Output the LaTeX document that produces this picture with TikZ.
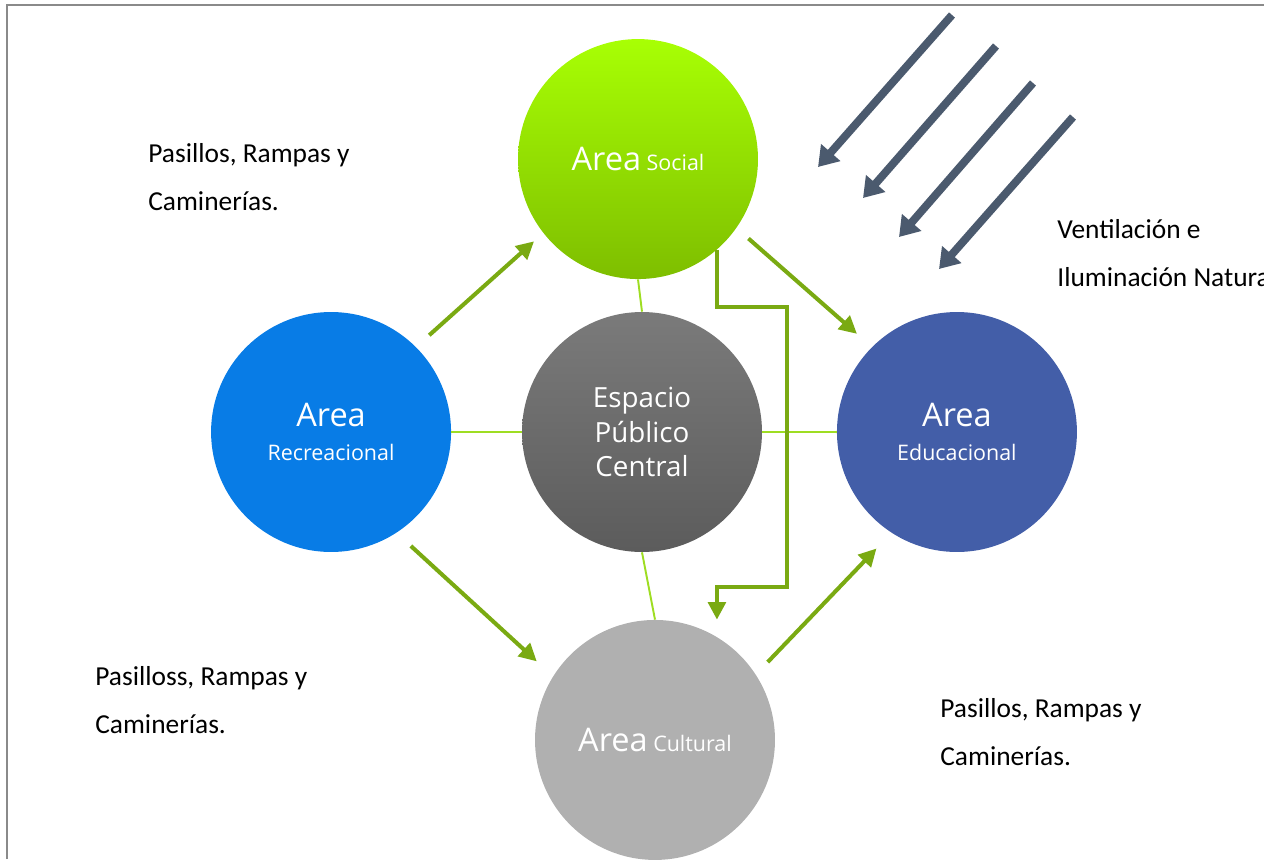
\documentclass[tikz,border=0pt]{standalone}
\usepackage{fontspec}
\setmainfont{Carlito}
\newfontfamily\ballfont{Open Sans}
\usetikzlibrary{arrows.meta}
\definecolor{leaf}{HTML}{7AAA12}
\definecolor{lime}{HTML}{9EDD22}
\definecolor{slate}{HTML}{4B5A6E}
\definecolor{frame}{HTML}{8A8A8A}
\newcommand{\areaword}[1]{{\fontsize{18.5}{19}\selectfont #1}}
\newcommand{\areakind}[1]{{\fontsize{12.2}{19}\selectfont #1}}
\begin{document}
\begin{tikzpicture}[x=0.02cm, y=-0.02cm, node distance=6cm,
  ball/.style={circle, minimum size=4.8cm, inner sep=0pt, text=white, align=center, font=\ballfont\fontsize{12.2}{19}\selectfont},
  link/.style={lime, line width=1.1pt},
  flow/.style={-{Triangle[length=10pt,width=10pt]}, leaf, line width=2.3pt},
  sun/.style={-{Triangle[length=11pt,width=14pt]}, slate, line width=4.5pt},
  note/.style={anchor=base west, inner sep=0pt, font=\fontsize{15.6}{18}\selectfont}]
\useasboundingbox (0,0) rectangle (1264,859);
\draw[frame, line width=1.2pt] (7,859) -- (7,5) -- (1264,5);

\node (cen)[ball, top color=black!52, bottom color=black!64, font=\ballfont\fontsize{15.8}{19.6}\selectfont] at (642,432)
  {Espacio\\ Público\\ Central};
\node (soc)[ball, top color={rgb,255:red,168;green,255;blue,4}, bottom color={rgb,255:red,126;green,190;blue,0}]
  [above of=cen, node distance=5.46cm, xshift=-0.08cm] {\areaword{Area} \areakind{Social}};
\node (rec)[ball, fill={rgb,255:red,8;green,124;blue,230}]
  [left of=cen, node distance=6.22cm] {\areaword{Area}\\ Recreacional};
\node (edu)[ball, fill={rgb,255:red,67;green,94;blue,168}]
  [right of=cen, node distance=6.3cm] {\areaword{Area}\\ Educacional};
\node (cul)[ball, fill=black!31]
  [below of=cen, node distance=6.16cm, xshift=0.26cm] {\areaword{Area} \areakind{Cultural}};

\node (t1)[note] at (148,162) {Pasillos, Rampas y};
\node (t2)[note] at (148,210) {Caminerías.};
\node (t3)[note] at (1057,238) {Ventilación e};
\node (t4)[note] at (1057,286) {Iluminación Natural};
\node (t5)[note] at (95,685) {Pasilloss, Rampas y};
\node (t6)[note] at (95,733) {Caminerías.};
\node (t7)[note] at (940,717) {Pasillos, Rampas y};
\node (t8)[note] at (940,765) {Caminerías.};

\draw[link] (soc.south) -- (cen.north);
\draw[link] (rec.east) -- (cen.west);
\draw[link] (cen.east) -- (edu.west);
\draw[link] (cen.south) -- (cul.north);

\draw[flow, shorten <=10pt, shorten >=7pt] (rec.45) -- (soc.218);
\draw[flow, shorten <=9pt, shorten >=11.3pt] (soc.-35) -- (edu.135);
\draw[flow, shorten <=11pt, shorten >=12.5pt] (rec.-57) -- (cul.148);
\draw[flow, shorten <=9.7pt, shorten >=12.3pt] (cul.33) -- (edu.-123);
\draw[flow] (soc.-49) -- ++(0,57) -- ++(70,0) -- ++(0,280) -- ++(-70,0) -- (soc.-49 |- cul.north);

\draw[sun] (952,15) -- (818,167);
\draw[sun] (996,46) -- (863,198);
\draw[sun] (1033,83) -- (899,237);
\draw[sun] (1073,117) -- (939,269);
\end{tikzpicture}
\end{document}
